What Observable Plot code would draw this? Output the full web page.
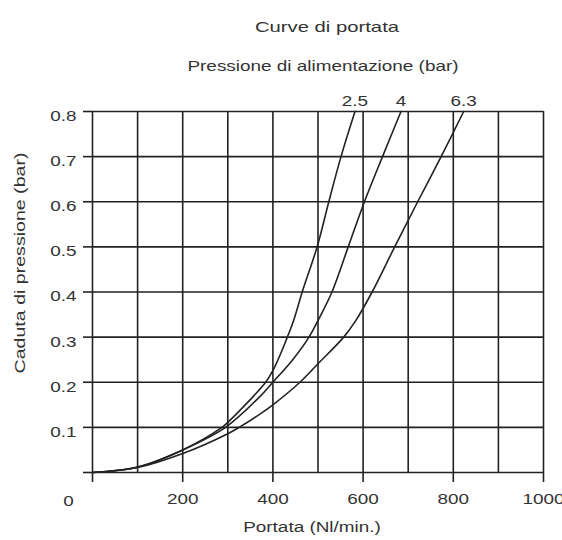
<!DOCTYPE html>
<html>
<head>
<meta charset="utf-8">
<script src="https://cdn.jsdelivr.net/npm/d3@7"></script>
<script src="https://cdn.jsdelivr.net/npm/@observablehq/plot@0.6"></script>
<style>
  body { margin: 0; background: #fff; }
  #wrap { position: relative; width: 562px; height: 540px; font-family: "Liberation Sans", Arial, sans-serif; color: #333; }
  .t { position: absolute; width: 400px; text-align: center; white-space: nowrap; line-height: 20px; transform: scaleX(1.35); transform-origin: 50% 50%; }
  #title { top: 17px; left: 127px; font-size: 15px; }
  #subtitle { top: 56px; left: 123px; font-size: 14px; }
  #chart { position: absolute; left: 0; top: 80px; }
</style>
</head>
<body>
<div id="wrap">
  <div class="t" id="title">Curve di portata</div>
  <div class="t" id="subtitle">Pressione di alimentazione (bar)</div>
  <div id="chart"></div>
</div>
<script>
// Series: supply pressure (bar)
const seriesNames = ["2.5", "4", "6.3"];

// Flow (Nl/min.) and pressure drop (bar)
const flow25 = [0, 100, 200, 287, 300, 384, 400, 420, 432, 446, 465, 498, 524, 551, 582];
const drop25 = [0, 0.012, 0.05, 0.1, 0.111, 0.2, 0.226, 0.27, 0.3, 0.337, 0.4, 0.5, 0.6, 0.7, 0.8];

const flow4 = [0, 100, 200, 295, 370, 400, 444, 480, 500, 531, 567, 603, 643, 684];
const drop4 = [0, 0.012, 0.05, 0.1, 0.167, 0.2, 0.25, 0.3, 0.337, 0.4, 0.5, 0.6, 0.7, 0.8];

const flow63 = [0, 100, 200, 300, 325, 372, 400, 460, 500, 557, 584, 620, 670, 721, 773, 823];
const drop63 = [0, 0.011, 0.042, 0.086, 0.1, 0.13, 0.15, 0.2, 0.241, 0.3, 0.337, 0.4, 0.5, 0.6, 0.7, 0.8];

// Axes
const xGrid = [0, 100, 200, 300, 400, 500, 600, 700, 800, 900, 1000];
const xTicks = [0, 200, 400, 600, 800, 1000];
const yTicks = [0, 0.1, 0.2, 0.3, 0.4, 0.5, 0.6, 0.7, 0.8];
const originLabel = ["0"];
const xTitle = "Portata (Nl/min.)";
const yTitle = "Caduta di pressione (bar)";

const flows = [flow25, flow4, flow63];
const drops = [drop25, drop4, drop63];
const rows = [];
seriesNames.forEach((s, i) => flows[i].forEach((f, j) => rows.push({p: s, flow: f, drop: drops[i][j]})));
const ends = seriesNames.map((s, i) => ({p: s, flow: flows[i][flows[i].length - 1], drop: drops[i][drops[i].length - 1]}));

const ink = "#222";
const fmtY = d => d === 0 ? "" : d3.format(".1f")(d);
const fmtX = d => d === 0 ? "" : String(d);

const chart = Plot.plot({
  width: 562,
  height: 460,
  marginLeft: 92,
  marginRight: 19,
  marginTop: 31,
  marginBottom: 68,
  x: {domain: [0, 1000]},
  y: {domain: [0, 0.8]},
  style: {fontFamily: '"Liberation Sans", Arial, sans-serif', fontSize: "14px", color: "#333", background: "#fff"},
  marks: [
    Plot.gridX(xGrid, {stroke: ink, strokeOpacity: 1, strokeWidth: 1.6}),
    Plot.gridY(yTicks, {stroke: ink, strokeOpacity: 1, strokeWidth: 1.6}),
    Plot.axisX(xTicks, {tickSize: 10, tickPadding: 12, tickFormat: fmtX, label: null, stroke: ink, strokeWidth: 1.6, fill: "#333"}),
    Plot.axisY(yTicks, {tickSize: 9, tickFormat: () => "", label: null, stroke: ink, strokeWidth: 1.6}),
    Plot.axisY(yTicks, {tickSize: 0, tickPadding: 16, dy: 5, tickFormat: fmtY, label: null, fill: "#333"}),
    Plot.text(originLabel, {x: 0, y: 0, text: d => d, dx: -24, dy: 29, fill: "#333"}),
    Plot.line(rows, {x: "flow", y: "drop", z: "p", curve: "catmull-rom", stroke: ink, strokeWidth: 1.6}),
    Plot.text(ends, {x: "flow", y: "drop", text: "p", dy: -10, fill: "#333"}),
    Plot.text([xTitle], {frameAnchor: "bottom", text: d => d, dx: -6, dy: 59, fill: "#333"}),
    Plot.text([yTitle], {frameAnchor: "left", textAnchor: "middle", text: d => d, rotate: -90, dx: -72, dy: -29, fontSize: 14.5, fill: "#333"})
  ]
});
document.getElementById("chart").appendChild(chart);

// The reference lettering is a wide (expanded) sans: stretch glyphs horizontally
const stretch = 1.35;
chart.querySelectorAll("text").forEach(t => {
  const len = t.getComputedTextLength();
  if (len > 0) {
    t.setAttribute("textLength", (len * stretch).toFixed(1));
    t.setAttribute("lengthAdjust", "spacingAndGlyphs");
  }
});
</script>
</body>
</html>
